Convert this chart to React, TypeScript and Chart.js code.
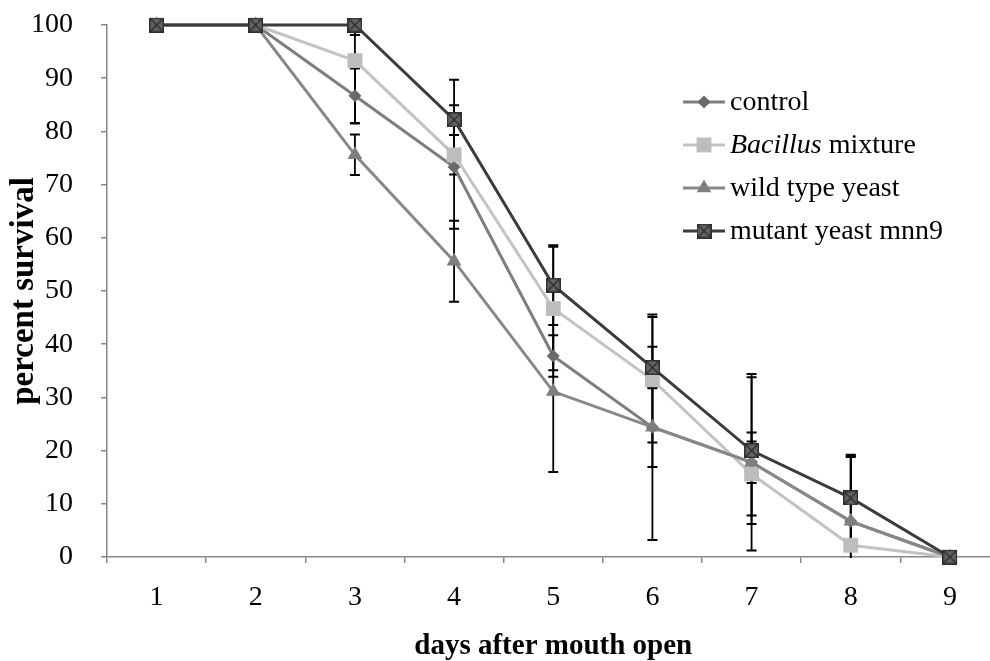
import React, { useEffect, useRef } from 'react';
import { Chart, registerables } from 'chart.js';

Chart.register(...registerables);

// ---- data ----
const days = ['1', '2', '3', '4', '5', '6', '7', '8', '9'];
const controlValues = [100, 100, 86.7, 73.3, 37.8, 24.4, 17.8, 6.7, 0];
const bacillusValues = [100, 100, 93.3, 75.6, 46.7, 33.3, 15.6, 2.2, 0];
const wildTypeValues = [100, 100, 75.6, 55.6, 31.1, 24.4, 17.8, 6.7, 0];
const mutantValues = [100, 100, 100, 82.2, 51.1, 35.6, 20, 11.1, 0];

const controlErrors = [0, 0, 5.1, 11.6, 3.9, 7.5, 3.9, 12.1, 0];
const bacillusErrors = [0, 0, 11.8, 3.7, 11.6, 11.8, 7.8, 0, 0];
const wildTypeErrors = [0, 0, 3.8, 7.6, 15.1, 21.2, 16.6, 12.5, 0];
const mutantErrors = [0, 0, 1.9, 7.5, 7.5, 3.9, 13.8, 7.9, 0];

const seriesNames = ['control', 'Bacillus mixture', 'wild type yeast', 'mutant yeast mnn9'];
const xTitle = 'days after mouth open';
const yTitle = 'percent survival';

const SERIF = '"Liberation Serif", "Times New Roman", serif';

function makeXSquare(): HTMLCanvasElement {
  const c = document.createElement('canvas');
  c.width = 15;
  c.height = 15;
  const g = c.getContext('2d')!;
  g.fillStyle = '#646464';
  g.fillRect(0, 0, 15, 15);
  g.strokeStyle = '#2e2e2e';
  g.lineWidth = 1.5;
  g.strokeRect(0.75, 0.75, 13.5, 13.5);
  g.beginPath();
  g.moveTo(1.5, 1.5);
  g.lineTo(13.5, 13.5);
  g.moveTo(13.5, 1.5);
  g.lineTo(1.5, 13.5);
  g.stroke();
  return c;
}

export default function App() {
  const ref = useRef<HTMLCanvasElement | null>(null);

  useEffect(() => {
    if (!ref.current) return;
    const xSquare = makeXSquare();
    const errorSets = [controlErrors, bacillusErrors, wildTypeErrors, mutantErrors];

    const errorBarPlugin = {
      id: 'errorBars',
      beforeDatasetsDraw(chart: any) {
        const { ctx, chartArea, scales } = chart;
        const xs = scales.x;
        const ys = scales.y;
        ctx.save();
        ctx.beginPath();
        ctx.rect(chartArea.left, chartArea.top, chartArea.right - chartArea.left, chartArea.bottom - chartArea.top + 1);
        ctx.clip();
        ctx.strokeStyle = '#000000';
        chart.data.datasets.forEach((ds: any, i: number) => {
          const errs = errorSets[i];
          ds.data.forEach((v: number, j: number) => {
            const e = errs[j];
            if (!e) return;
            const px = xs.getPixelForValue(j);
            const yTop = ys.getPixelForValue(v + e);
            const yBot = ys.getPixelForValue(v - e);
            ctx.lineWidth = 1.8;
            ctx.beginPath();
            ctx.moveTo(px, yTop);
            ctx.lineTo(px, yBot);
            ctx.stroke();
            ctx.lineWidth = 2;
            ctx.beginPath();
            ctx.moveTo(px - 5, yTop);
            ctx.lineTo(px + 5, yTop);
            ctx.moveTo(px - 5, yBot);
            ctx.lineTo(px + 5, yBot);
            ctx.stroke();
          });
        });
        ctx.restore();
      },
    };

    const legendPlugin = {
      id: 'customLegend',
      afterDraw(chart: any) {
        const { ctx } = chart;
        const rows = [102, 145, 188, 231];
        const x1 = 683;
        const x2 = 725;
        const mx = 704;
        const tx = 730;
        ctx.save();
        chart.data.datasets.forEach((ds: any, i: number) => {
          const y = rows[i];
          ctx.strokeStyle = ds.borderColor;
          ctx.lineWidth = ds.borderWidth;
          ctx.beginPath();
          ctx.moveTo(x1, y);
          ctx.lineTo(x2, y);
          ctx.stroke();
          ctx.fillStyle = ds.pointBackgroundColor;
          const r = ds.pointRadius;
          const st = ds.pointStyle;
          if (st === 'rectRot') {
            ctx.beginPath();
            ctx.moveTo(mx, y - r);
            ctx.lineTo(mx + r, y);
            ctx.lineTo(mx, y + r);
            ctx.lineTo(mx - r, y);
            ctx.closePath();
            ctx.fill();
          } else if (st === 'rect') {
            const s = r * Math.SQRT1_2;
            ctx.fillRect(mx - s, y - s, 2 * s, 2 * s);
          } else if (st === 'triangle') {
            ctx.beginPath();
            ctx.moveTo(mx, y - r);
            ctx.lineTo(mx + r * 0.866, y + r * 0.5);
            ctx.lineTo(mx - r * 0.866, y + r * 0.5);
            ctx.closePath();
            ctx.fill();
          } else {
            ctx.drawImage(xSquare, mx - 7.5, y - 7.5);
          }
          ctx.fillStyle = '#000000';
          ctx.textBaseline = 'middle';
          ctx.textAlign = 'left';
          const name = seriesNames[i];
          if (name.startsWith('Bacillus')) {
            ctx.font = `italic 28px ${SERIF}`;
            ctx.fillText('Bacillus', tx, y + 1);
            const w = ctx.measureText('Bacillus').width;
            ctx.font = `28px ${SERIF}`;
            ctx.fillText(name.slice('Bacillus'.length), tx + w, y + 1);
          } else {
            ctx.font = `28px ${SERIF}`;
            ctx.fillText(name, tx, y + 1);
          }
        });
        ctx.restore();
      },
    };

    const axisColor = '#888888';

    const chart = new Chart(ref.current, {
      type: 'line',
      data: {
        labels: days,
        datasets: [
          {
            label: seriesNames[0],
            data: controlValues,
            order: 3,
            borderColor: '#7e7e7e',
            borderWidth: 3,
            pointStyle: 'rectRot',
            pointRadius: 6.5,
            pointBackgroundColor: '#6a6a6a',
            pointBorderColor: '#6a6a6a',
            pointBorderWidth: 0,
            tension: 0,
            clip: false,
          },
          {
            label: seriesNames[1],
            data: bacillusValues,
            order: 2,
            borderColor: '#c3c3c3',
            borderWidth: 3,
            pointStyle: 'rect',
            pointRadius: 10.5,
            pointBackgroundColor: '#bdbdbd',
            pointBorderColor: '#bdbdbd',
            pointBorderWidth: 0,
            tension: 0,
            clip: false,
          },
          {
            label: seriesNames[2],
            data: wildTypeValues,
            order: 1,
            borderColor: '#888888',
            borderWidth: 3,
            pointStyle: 'triangle',
            pointRadius: 8.5,
            pointBackgroundColor: '#7e7e7e',
            pointBorderColor: '#7e7e7e',
            pointBorderWidth: 0,
            tension: 0,
            clip: false,
          },
          {
            label: seriesNames[3],
            data: mutantValues,
            order: 0,
            borderColor: '#3c3c3c',
            borderWidth: 3,
            pointStyle: xSquare as any,
            pointRadius: 7.5,
            pointBackgroundColor: '#646464',
            pointBorderColor: '#2e2e2e',
            pointBorderWidth: 0,
            tension: 0,
            clip: false,
          },
        ],
      },
      options: {
        animation: false,
        responsive: false,
        maintainAspectRatio: false,
        devicePixelRatio: 1,
        layout: { padding: { left: 0, right: 10, top: 25, bottom: 0 } },
        plugins: {
          legend: { display: false },
          title: { display: false },
          tooltip: { enabled: false },
        },
        scales: {
          x: {
            type: 'category',
            offset: true,
            grid: {
              offset: true,
              drawOnChartArea: false,
              drawTicks: true,
              tickLength: 6,
              color: axisColor,
              lineWidth: 1.5,
            },
            border: { display: true, color: axisColor, width: 1.5 },
            ticks: {
              color: '#000000',
              font: { family: SERIF, size: 28 },
              padding: 18,
              maxRotation: 0,
            },
            title: {
              display: true,
              text: xTitle,
              color: '#000000',
              font: { family: SERIF, size: 29, weight: 'bold', lineHeight: 1 },
              padding: { top: 0, bottom: 0 },
            },
            afterFit: (s: any) => {
              s.height = 104;
              s.paddingLeft = 0;
              s.paddingRight = 0;
            },
          },
          y: {
            min: 0,
            max: 100,
            ticks: {
              stepSize: 10,
              color: '#000000',
              font: { family: SERIF, size: 28 },
              padding: 28,
            },
            grid: {
              drawOnChartArea: false,
              drawTicks: true,
              tickLength: 6,
              color: axisColor,
              lineWidth: 1.5,
            },
            border: { display: true, color: axisColor, width: 1.5 },
            title: {
              display: true,
              text: yTitle,
              color: '#000000',
              font: { family: SERIF, size: 33, weight: 'bold', lineHeight: 1.1 },
              padding: { top: 6, bottom: 0 },
            },
            afterFit: (s: any) => {
              s.width = 107;
              s.paddingTop = 0;
              s.paddingBottom = 0;
            },
          },
        },
      },
      plugins: [errorBarPlugin, legendPlugin],
    } as any);

    return () => chart.destroy();
  }, []);

  return (
    <div style={{ position: 'fixed', left: 0, top: 0, width: 990, height: 661, overflow: 'hidden', background: '#ffffff' }}>
      <canvas ref={ref} width={1010} height={661} style={{ width: 1010, height: 661, display: 'block' }} />
    </div>
  );
}
